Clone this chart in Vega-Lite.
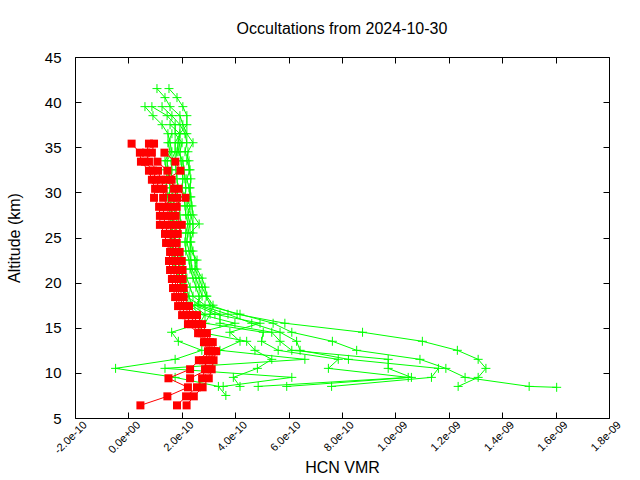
{
"$schema": "https://vega.github.io/schema/vega-lite/v6.json",
"width": 534, "height": 361, "autosize": "none",
"padding": {"left": 75, "top": 57, "right": 31, "bottom": 62},
"background": "white",
"title": {"text": "Occultations from 2024-10-30", "font": "Liberation Sans", "fontSize": 16, "fontWeight": "normal", "color": "#000", "offset": 13, "anchor": "middle"},
"config": {"view": {"stroke": "#000", "strokeWidth": 1},
  "axis": {"domain": false, "grid": false, "tickColor": "#000", "tickSize": -6, "labelFont": "Liberation Sans", "titleFont": "Liberation Sans", "labelColor": "#000", "titleColor": "#000", "titleFontWeight": "normal", "labelOverlap": false, "labelBound": false, "labelFlush": false}},
"datasets": {
"green": [
{"p":"G1","alt":41.5,"v":1.07e-10},{"p":"G1","alt":40.5,"v":1.37e-10},{"p":"G1","alt":39.5,"v":1.56e-10},{"p":"G1","alt":38.5,"v":1.93e-10},{"p":"G1","alt":37.5,"v":2.04e-10},{"p":"G1","alt":36.5,"v":2.19e-10},{"p":"G1","alt":35.5,"v":2.42e-10},{"p":"G1","alt":34.5,"v":2.23e-10},{"p":"G1","alt":33.5,"v":2.19e-10},{"p":"G1","alt":32.5,"v":2.31e-10},{"p":"G1","alt":31.5,"v":2.19e-10},{"p":"G1","alt":30.5,"v":2.27e-10},{"p":"G1","alt":29.5,"v":2.31e-10},{"p":"G1","alt":28.5,"v":2.19e-10},{"p":"G1","alt":27.5,"v":2.34e-10},{"p":"G1","alt":26.5,"v":2.42e-10},{"p":"G1","alt":25.5,"v":2.42e-10},{"p":"G1","alt":24.5,"v":2.31e-10},{"p":"G1","alt":23.5,"v":2.34e-10},{"p":"G1","alt":22.5,"v":2.57e-10},{"p":"G1","alt":21.5,"v":2.49e-10},{"p":"G1","alt":20.5,"v":2.65e-10},{"p":"G1","alt":19.5,"v":2.76e-10},{"p":"G1","alt":18.5,"v":2.91e-10},{"p":"G1","alt":17.5,"v":3.06e-10},{"p":"G1","alt":16.5,"v":4.07e-10},{"p":"G1","alt":15.5,"v":5.86e-10},{"p":"G1","alt":14.5,"v":8.77e-10},{"p":"G1","alt":13.5,"v":1.101e-9},{"p":"G1","alt":12.5,"v":1.232e-9},{"p":"G1","alt":11.5,"v":1.310e-9},{"p":"G1","alt":10.5,"v":1.339e-9},{"p":"G1","alt":9.5,"v":1.310e-9},{"p":"G1","alt":8.5,"v":1.235e-9},
{"p":"G2","alt":41.5,"v":1.52e-10},{"p":"G2","alt":40.5,"v":1.82e-10},{"p":"G2","alt":39.5,"v":2.04e-10},{"p":"G2","alt":38.5,"v":2.19e-10},{"p":"G2","alt":37.5,"v":2.19e-10},{"p":"G2","alt":36.5,"v":1.93e-10},{"p":"G2","alt":35.5,"v":1.86e-10},{"p":"G2","alt":34.5,"v":1.82e-10},{"p":"G2","alt":33.5,"v":1.75e-10},{"p":"G2","alt":32.5,"v":1.78e-10},{"p":"G2","alt":31.5,"v":1.82e-10},{"p":"G2","alt":30.5,"v":1.86e-10},{"p":"G2","alt":29.5,"v":1.82e-10},{"p":"G2","alt":28.5,"v":1.90e-10},{"p":"G2","alt":27.5,"v":1.93e-10},{"p":"G2","alt":26.5,"v":1.97e-10},{"p":"G2","alt":25.5,"v":1.93e-10},{"p":"G2","alt":24.5,"v":1.90e-10},{"p":"G2","alt":23.5,"v":1.93e-10},{"p":"G2","alt":22.5,"v":2.04e-10},{"p":"G2","alt":21.5,"v":2.08e-10},{"p":"G2","alt":20.5,"v":2.19e-10},{"p":"G2","alt":19.5,"v":2.31e-10},{"p":"G2","alt":18.5,"v":2.42e-10},{"p":"G2","alt":17.5,"v":2.87e-10},{"p":"G2","alt":16.5,"v":4.18e-10},{"p":"G2","alt":15.5,"v":5.42e-10},{"p":"G2","alt":14.5,"v":6.12e-10},{"p":"G2","alt":13.5,"v":7.64e-10},{"p":"G2","alt":12.5,"v":8.55e-10},{"p":"G2","alt":11.5,"v":1.092e-9},{"p":"G2","alt":10.5,"v":1.189e-9},{"p":"G2","alt":9.5,"v":1.261e-9},{"p":"G2","alt":8.5,"v":1.501e-9},{"p":"G2","alt":8.4,"v":1.604e-9},
{"p":"G3","alt":39.5,"v":6.2e-11},{"p":"G3","alt":38.5,"v":9.2e-11},{"p":"G3","alt":37.5,"v":1.26e-10},{"p":"G3","alt":36.5,"v":1.48e-10},{"p":"G3","alt":35.5,"v":1.56e-10},{"p":"G3","alt":34.5,"v":1.63e-10},{"p":"G3","alt":33.5,"v":1.45e-10},{"p":"G3","alt":32.5,"v":1.48e-10},{"p":"G3","alt":31.5,"v":1.52e-10},{"p":"G3","alt":30.5,"v":1.56e-10},{"p":"G3","alt":29.5,"v":1.52e-10},{"p":"G3","alt":28.5,"v":1.60e-10},{"p":"G3","alt":27.5,"v":1.63e-10},{"p":"G3","alt":26.5,"v":1.67e-10},{"p":"G3","alt":25.5,"v":1.63e-10},{"p":"G3","alt":24.5,"v":1.63e-10},{"p":"G3","alt":23.5,"v":1.67e-10},{"p":"G3","alt":22.5,"v":1.75e-10},{"p":"G3","alt":21.5,"v":1.78e-10},{"p":"G3","alt":20.5,"v":1.90e-10},{"p":"G3","alt":19.5,"v":2.01e-10},{"p":"G3","alt":18.5,"v":2.15e-10},{"p":"G3","alt":17.5,"v":2.68e-10},{"p":"G3","alt":16.5,"v":3.73e-10},{"p":"G3","alt":15.5,"v":4.62e-10},{"p":"G3","alt":14.5,"v":5.68e-10},{"p":"G3","alt":13.5,"v":6.30e-10},{"p":"G3","alt":12.5,"v":6.43e-10},{"p":"G3","alt":11.5,"v":8.24e-10},{"p":"G3","alt":10.5,"v":1.161e-9},{"p":"G3","alt":9.5,"v":1.135e-9},{"p":"G3","alt":8.5,"v":7.61e-10},
{"p":"G4","alt":39.5,"v":8.8e-11},{"p":"G4","alt":38.5,"v":1.45e-10},{"p":"G4","alt":37.5,"v":1.75e-10},{"p":"G4","alt":36.5,"v":1.75e-10},{"p":"G4","alt":35.5,"v":2.01e-10},{"p":"G4","alt":34.5,"v":1.93e-10},{"p":"G4","alt":33.5,"v":1.97e-10},{"p":"G4","alt":32.5,"v":2.01e-10},{"p":"G4","alt":31.5,"v":2.04e-10},{"p":"G4","alt":30.5,"v":2.01e-10},{"p":"G4","alt":29.5,"v":2.08e-10},{"p":"G4","alt":28.5,"v":2.12e-10},{"p":"G4","alt":27.5,"v":2.15e-10},{"p":"G4","alt":26.5,"v":2.23e-10},{"p":"G4","alt":25.5,"v":2.15e-10},{"p":"G4","alt":24.5,"v":2.12e-10},{"p":"G4","alt":23.5,"v":2.15e-10},{"p":"G4","alt":22.5,"v":2.27e-10},{"p":"G4","alt":21.5,"v":2.31e-10},{"p":"G4","alt":20.5,"v":2.42e-10},{"p":"G4","alt":19.5,"v":2.53e-10},{"p":"G4","alt":18.5,"v":2.65e-10},{"p":"G4","alt":17.5,"v":2.61e-10},{"p":"G4","alt":16.5,"v":3.43e-10},{"p":"G4","alt":15.5,"v":3.43e-10},{"p":"G4","alt":14.5,"v":5.37e-10},{"p":"G4","alt":13.5,"v":5.68e-10},{"p":"G4","alt":12.5,"v":6.12e-10},{"p":"G4","alt":11.5,"v":9.73e-10},{"p":"G4","alt":10.5,"v":9.73e-10},{"p":"G4","alt":9.5,"v":1.060e-9},{"p":"G4","alt":8.5,"v":5.93e-10},
{"p":"G5","alt":39.5,"v":1.26e-10},{"p":"G5","alt":38.5,"v":1.63e-10},{"p":"G5","alt":37.5,"v":1.93e-10},{"p":"G5","alt":36.5,"v":2.12e-10},{"p":"G5","alt":35.5,"v":2.19e-10},{"p":"G5","alt":34.5,"v":2.12e-10},{"p":"G5","alt":33.5,"v":2.27e-10},{"p":"G5","alt":32.5,"v":2.27e-10},{"p":"G5","alt":31.5,"v":2.34e-10},{"p":"G5","alt":30.5,"v":2.31e-10},{"p":"G5","alt":29.5,"v":2.34e-10},{"p":"G5","alt":28.5,"v":2.38e-10},{"p":"G5","alt":27.5,"v":2.42e-10},{"p":"G5","alt":26.5,"v":2.65e-10},{"p":"G5","alt":25.5,"v":2.31e-10},{"p":"G5","alt":24.5,"v":2.34e-10},{"p":"G5","alt":23.5,"v":2.42e-10},{"p":"G5","alt":22.5,"v":2.49e-10},{"p":"G5","alt":21.5,"v":2.57e-10},{"p":"G5","alt":20.5,"v":2.76e-10},{"p":"G5","alt":19.5,"v":2.87e-10},{"p":"G5","alt":18.5,"v":2.94e-10},{"p":"G5","alt":17.5,"v":3.17e-10},{"p":"G5","alt":16.5,"v":3.06e-10},{"p":"G5","alt":15.5,"v":2.87e-10},{"p":"G5","alt":14.5,"v":5.05e-10},{"p":"G5","alt":13.5,"v":4.99e-10},{"p":"G5","alt":12.5,"v":5.61e-10},{"p":"G5","alt":11.5,"v":7.86e-10},{"p":"G5","alt":10.5,"v":7.49e-10},{"p":"G5","alt":9.5,"v":1.048e-9},{"p":"G5","alt":8.5,"v":4.86e-10},
{"p":"G6","alt":37.5,"v":1.56e-10},{"p":"G6","alt":36.5,"v":1.93e-10},{"p":"G6","alt":35.5,"v":1.75e-10},{"p":"G6","alt":34.5,"v":1.75e-10},{"p":"G6","alt":33.5,"v":1.60e-10},{"p":"G6","alt":32.5,"v":1.63e-10},{"p":"G6","alt":31.5,"v":1.60e-10},{"p":"G6","alt":30.5,"v":1.71e-10},{"p":"G6","alt":29.5,"v":1.63e-10},{"p":"G6","alt":28.5,"v":1.71e-10},{"p":"G6","alt":27.5,"v":1.75e-10},{"p":"G6","alt":26.5,"v":1.82e-10},{"p":"G6","alt":25.5,"v":1.78e-10},{"p":"G6","alt":24.5,"v":1.75e-10},{"p":"G6","alt":23.5,"v":1.78e-10},{"p":"G6","alt":22.5,"v":1.90e-10},{"p":"G6","alt":21.5,"v":1.93e-10},{"p":"G6","alt":20.5,"v":2.04e-10},{"p":"G6","alt":19.5,"v":2.15e-10},{"p":"G6","alt":18.5,"v":2.27e-10},{"p":"G6","alt":17.5,"v":2.38e-10},{"p":"G6","alt":16.5,"v":2.87e-10},{"p":"G6","alt":15.5,"v":2.68e-10},{"p":"G6","alt":14.5,"v":1.62e-10},{"p":"G6","alt":13.5,"v":1.87e-10},{"p":"G6","alt":12.5,"v":2.75e-10},{"p":"G6","alt":11.5,"v":1.75e-10},{"p":"G6","alt":10.5,"v":-4.8e-11},{"p":"G6","alt":9.5,"v":1.75e-10},{"p":"G6","alt":8.5,"v":3.37e-10},{"p":"G6","alt":7.5,"v":3.65e-10},
{"p":"G7","alt":36.5,"v":1.63e-10},{"p":"G7","alt":35.5,"v":1.48e-10},{"p":"G7","alt":34.5,"v":1.56e-10},{"p":"G7","alt":33.5,"v":1.37e-10},{"p":"G7","alt":32.5,"v":1.41e-10},{"p":"G7","alt":31.5,"v":1.45e-10},{"p":"G7","alt":30.5,"v":1.41e-10},{"p":"G7","alt":29.5,"v":1.48e-10},{"p":"G7","alt":28.5,"v":1.52e-10},{"p":"G7","alt":27.5,"v":1.56e-10},{"p":"G7","alt":26.5,"v":1.60e-10},{"p":"G7","alt":25.5,"v":1.60e-10},{"p":"G7","alt":24.5,"v":1.56e-10},{"p":"G7","alt":23.5,"v":1.60e-10},{"p":"G7","alt":22.5,"v":1.71e-10},{"p":"G7","alt":21.5,"v":1.71e-10},{"p":"G7","alt":20.5,"v":1.86e-10},{"p":"G7","alt":19.5,"v":1.97e-10},{"p":"G7","alt":18.5,"v":2.12e-10},{"p":"G7","alt":17.5,"v":2.31e-10},{"p":"G7","alt":16.5,"v":2.68e-10},{"p":"G7","alt":15.5,"v":3.99e-10},{"p":"G7","alt":14.5,"v":2.68e-10},{"p":"G7","alt":13.5,"v":4.43e-10},{"p":"G7","alt":12.5,"v":4.74e-10},{"p":"G7","alt":11.5,"v":5.37e-10},{"p":"G7","alt":10.5,"v":4.83e-10},{"p":"G7","alt":9.5,"v":3.93e-10},{"p":"G7","alt":8.5,"v":4.18e-10},
{"p":"G8","alt":35.5,"v":1.93e-10},{"p":"G8","alt":34.5,"v":1.86e-10},{"p":"G8","alt":33.5,"v":2.04e-10},{"p":"G8","alt":32.5,"v":2.08e-10},{"p":"G8","alt":31.5,"v":2.12e-10},{"p":"G8","alt":30.5,"v":2.15e-10},{"p":"G8","alt":29.5,"v":2.12e-10},{"p":"G8","alt":28.5,"v":2.31e-10},{"p":"G8","alt":27.5,"v":2.23e-10},{"p":"G8","alt":26.5,"v":2.31e-10},{"p":"G8","alt":25.5,"v":2.23e-10},{"p":"G8","alt":24.5,"v":2.19e-10},{"p":"G8","alt":23.5,"v":2.27e-10},{"p":"G8","alt":22.5,"v":2.34e-10},{"p":"G8","alt":21.5,"v":2.38e-10},{"p":"G8","alt":20.5,"v":2.53e-10},{"p":"G8","alt":19.5,"v":2.65e-10},{"p":"G8","alt":18.5,"v":2.76e-10},{"p":"G8","alt":17.5,"v":2.49e-10},{"p":"G8","alt":16.5,"v":3.24e-10},{"p":"G8","alt":15.5,"v":4.93e-10},{"p":"G8","alt":14.5,"v":3.80e-10},{"p":"G8","alt":13.5,"v":4.18e-10},{"p":"G8","alt":12.5,"v":3.43e-10},{"p":"G8","alt":11.5,"v":6.61e-10},{"p":"G8","alt":10.5,"v":1.37e-10},{"p":"G8","alt":9.5,"v":6.12e-10},{"p":"G8","alt":8.5,"v":3.55e-10}
],
"red": [
{"p":"R1","alt":35.4,"v":1.2e-11},{"p":"R1","alt":34.4,"v":4.3e-11},{"p":"R1","alt":33.4,"v":4.7e-11},{"p":"R1","alt":32.4,"v":7.7e-11},{"p":"R1","alt":31.4,"v":8.8e-11},{"p":"R1","alt":30.4,"v":1.00e-10},{"p":"R1","alt":29.4,"v":9.6e-11},{"p":"R1","alt":28.4,"v":1.15e-10},{"p":"R1","alt":27.4,"v":1.18e-10},{"p":"R1","alt":26.4,"v":1.18e-10},{"p":"R1","alt":25.4,"v":1.37e-10},{"p":"R1","alt":24.4,"v":1.41e-10},{"p":"R1","alt":23.4,"v":1.56e-10},{"p":"R1","alt":22.4,"v":1.52e-10},{"p":"R1","alt":21.4,"v":1.56e-10},{"p":"R1","alt":20.4,"v":1.63e-10},{"p":"R1","alt":19.4,"v":1.67e-10},{"p":"R1","alt":18.4,"v":1.75e-10},{"p":"R1","alt":17.4,"v":1.86e-10},{"p":"R1","alt":16.4,"v":2.01e-10},{"p":"R1","alt":15.4,"v":2.23e-10},{"p":"R1","alt":14.4,"v":2.61e-10},{"p":"R1","alt":13.4,"v":2.83e-10},{"p":"R1","alt":12.4,"v":2.98e-10},{"p":"R1","alt":11.4,"v":2.64e-10},{"p":"R1","alt":10.4,"v":2.31e-10},{"p":"R1","alt":9.4,"v":1.50e-10},{"p":"R1","alt":8.4,"v":2.23e-10},{"p":"R1","alt":7.4,"v":1.46e-10},{"p":"R1","alt":6.4,"v":4.5e-11},
{"p":"R2","alt":35.4,"v":7.7e-11},{"p":"R2","alt":34.4,"v":6.6e-11},{"p":"R2","alt":33.4,"v":7.7e-11},{"p":"R2","alt":32.4,"v":1.11e-10},{"p":"R2","alt":31.4,"v":1.22e-10},{"p":"R2","alt":30.4,"v":1.32e-10},{"p":"R2","alt":29.4,"v":1.30e-10},{"p":"R2","alt":28.4,"v":1.48e-10},{"p":"R2","alt":27.4,"v":1.48e-10},{"p":"R2","alt":26.4,"v":1.56e-10},{"p":"R2","alt":25.4,"v":1.60e-10},{"p":"R2","alt":24.4,"v":1.81e-10},{"p":"R2","alt":23.4,"v":1.92e-10},{"p":"R2","alt":22.4,"v":2.00e-10},{"p":"R2","alt":21.4,"v":2.03e-10},{"p":"R2","alt":20.4,"v":2.03e-10},{"p":"R2","alt":19.4,"v":2.07e-10},{"p":"R2","alt":18.4,"v":2.07e-10},{"p":"R2","alt":17.4,"v":2.27e-10},{"p":"R2","alt":16.4,"v":2.57e-10},{"p":"R2","alt":15.4,"v":2.76e-10},{"p":"R2","alt":14.4,"v":2.94e-10},{"p":"R2","alt":13.4,"v":3.16e-10},{"p":"R2","alt":12.4,"v":3.28e-10},{"p":"R2","alt":11.4,"v":3.19e-10},{"p":"R2","alt":10.4,"v":3.12e-10},{"p":"R2","alt":9.4,"v":3.01e-10},{"p":"R2","alt":8.4,"v":2.78e-10},{"p":"R2","alt":7.4,"v":2.45e-10},{"p":"R2","alt":6.4,"v":2.18e-10},
{"p":"R3","alt":35.4,"v":9.6e-11},{"p":"R3","alt":34.4,"v":8.8e-11},{"p":"R3","alt":33.4,"v":1.09e-10},{"p":"R3","alt":32.4,"v":1.46e-10},{"p":"R3","alt":31.4,"v":1.62e-10},{"p":"R3","alt":30.4,"v":1.71e-10},{"p":"R3","alt":29.4,"v":1.82e-10},{"p":"R3","alt":28.4,"v":1.81e-10},{"p":"R3","alt":27.4,"v":1.77e-10},{"p":"R3","alt":26.4,"v":2.00e-10},{"p":"R3","alt":25.4,"v":1.85e-10},{"p":"R3","alt":24.4,"v":1.60e-10},{"p":"R3","alt":23.4,"v":1.75e-10},{"p":"R3","alt":22.4,"v":1.75e-10},{"p":"R3","alt":21.4,"v":1.78e-10},{"p":"R3","alt":20.4,"v":1.82e-10},{"p":"R3","alt":19.4,"v":1.86e-10},{"p":"R3","alt":18.4,"v":1.90e-10},{"p":"R3","alt":17.4,"v":2.08e-10},{"p":"R3","alt":16.4,"v":2.31e-10},{"p":"R3","alt":15.4,"v":2.49e-10},{"p":"R3","alt":14.4,"v":2.76e-10},{"p":"R3","alt":13.4,"v":2.98e-10},{"p":"R3","alt":12.4,"v":3.13e-10},{"p":"R3","alt":11.4,"v":2.91e-10},{"p":"R3","alt":10.4,"v":2.87e-10},{"p":"R3","alt":9.4,"v":2.76e-10},{"p":"R3","alt":8.4,"v":2.57e-10},{"p":"R3","alt":7.4,"v":2.16e-10},{"p":"R3","alt":6.4,"v":1.82e-10},
{"p":"R4","alt":34.4,"v":1.35e-10},{"p":"R4","alt":33.4,"v":1.76e-10},{"p":"R4","alt":32.4,"v":1.95e-10},{"p":"R4","alt":31.4,"v":1.41e-10},{"p":"R4","alt":30.4,"v":1.88e-10},{"p":"R4","alt":29.4,"v":2.14e-10},{"p":"R4","alt":28.4,"v":1.63e-10},{"p":"R4","alt":27.4,"v":1.63e-10},{"p":"R4","alt":26.4,"v":1.78e-10},{"p":"R4","alt":25.4,"v":1.71e-10},{"p":"R4","alt":24.4,"v":1.48e-10},{"p":"R4","alt":23.4,"v":1.63e-10},{"p":"R4","alt":22.4,"v":1.63e-10},{"p":"R4","alt":21.4,"v":1.67e-10},{"p":"R4","alt":20.4,"v":1.75e-10},{"p":"R4","alt":19.4,"v":1.78e-10},{"p":"R4","alt":18.4,"v":1.82e-10},{"p":"R4","alt":17.4,"v":1.97e-10},{"p":"R4","alt":16.4,"v":2.16e-10},{"p":"R4","alt":15.4,"v":2.34e-10},{"p":"R4","alt":14.4,"v":2.68e-10},{"p":"R4","alt":13.4,"v":2.91e-10},{"p":"R4","alt":12.4,"v":3.06e-10},{"p":"R4","alt":11.4,"v":2.79e-10},{"p":"R4","alt":10.4,"v":2.98e-10},{"p":"R4","alt":9.4,"v":2.31e-10},
{"p":"R5","alt":33.4,"v":6.2e-11},{"p":"R5","alt":32.4,"v":9.2e-11},{"p":"R5","alt":31.4,"v":1.03e-10},{"p":"R5","alt":30.4,"v":1.15e-10},{"p":"R5","alt":29.4,"v":1.63e-10},{"p":"R5","alt":28.4,"v":1.30e-10},{"p":"R5","alt":27.4,"v":1.33e-10},{"p":"R5","alt":26.4,"v":1.37e-10},{"p":"R5","alt":25.4,"v":1.48e-10},{"p":"R5","alt":24.4,"v":1.71e-10},{"p":"R5","alt":23.4,"v":1.82e-10},{"p":"R5","alt":22.4,"v":1.86e-10},{"p":"R5","alt":21.4,"v":1.90e-10},{"p":"R5","alt":20.4,"v":1.93e-10},{"p":"R5","alt":19.4,"v":1.97e-10},{"p":"R5","alt":18.4,"v":1.97e-10},{"p":"R5","alt":17.4,"v":2.16e-10},{"p":"R5","alt":16.4,"v":2.42e-10},{"p":"R5","alt":15.4,"v":2.61e-10},{"p":"R5","alt":14.4,"v":2.87e-10},{"p":"R5","alt":13.4,"v":3.06e-10},{"p":"R5","alt":12.4,"v":3.21e-10},{"p":"R5","alt":11.4,"v":3.06e-10}
]},
"layer": [
{"data": {"name": "green"},
 "mark": {"type": "line", "color": "#00ff00", "strokeWidth": 1},
 "encoding": {
  "x": {"field": "v", "type": "quantitative", "scale": {"domain": [-2e-10, 1.8e-9], "nice": false, "zero": false},
    "axis": {"orient": "bottom", "values": [-2e-10, 0, 2e-10, 4e-10, 6e-10, 8e-10, 1e-9, 1.2e-9, 1.4e-9, 1.6e-9, 1.8e-9],
      "labelExpr": "datum.value == 0 ? '0.0e+00' : replace(replace(format(datum.value, '.1e'), 'e-9', 'e-09'), '−', '-')",
      "labelAngle": -45, "labelAlign": "right", "labelBaseline": "middle", "labelFontSize": 11, "labelPadding": 11, "labelOffset": 10,
      "title": "HCN VMR", "titleFontSize": 16, "titleBaseline": "alphabetic", "titleY": 54}},
  "y": {"field": "alt", "type": "quantitative", "scale": {"domain": [5, 45], "nice": false, "zero": false},
    "axis": {"orient": "left", "values": [5, 10, 15, 20, 25, 30, 35, 40, 45], "labelFontSize": 15, "labelPadding": 20,
      "title": "Altitude (km)", "titleFontSize": 16, "titleBaseline": "middle", "titleX": -61}},
  "detail": {"field": "p"},
  "order": {"field": "alt"}}},
{"data": {"name": "green"},
 "mark": {"type": "point", "shape": "M-1,0L1,0M0,-1L0,1", "size": 81, "filled": false, "stroke": "#00ff00", "strokeWidth": 1, "opacity": 1},
 "encoding": {
  "x": {"field": "v", "type": "quantitative", "axis": {"orient": "top", "values": [-2e-10, 0, 2e-10, 4e-10, 6e-10, 8e-10, 1e-9, 1.2e-9, 1.4e-9, 1.6e-9, 1.8e-9], "labels": false, "title": null}},
  "y": {"field": "alt", "type": "quantitative", "axis": {"orient": "right", "values": [5, 10, 15, 20, 25, 30, 35, 40, 45], "labels": false, "title": null}}}},
{"data": {"name": "red"},
 "mark": {"type": "line", "color": "#ff0000", "strokeWidth": 1},
 "encoding": {
  "x": {"field": "v", "type": "quantitative", "axis": null},
  "y": {"field": "alt", "type": "quantitative", "axis": null},
  "detail": {"field": "p"},
  "order": {"field": "alt"}}},
{"data": {"name": "red"},
 "mark": {"type": "point", "shape": "square", "size": 64, "filled": true, "fill": "#ff0000", "strokeWidth": 0, "opacity": 1},
 "encoding": {
  "x": {"field": "v", "type": "quantitative", "axis": null},
  "y": {"field": "alt", "type": "quantitative", "axis": null}}}
],
"resolve": {"axis": {"x": "independent", "y": "independent"}}
}
